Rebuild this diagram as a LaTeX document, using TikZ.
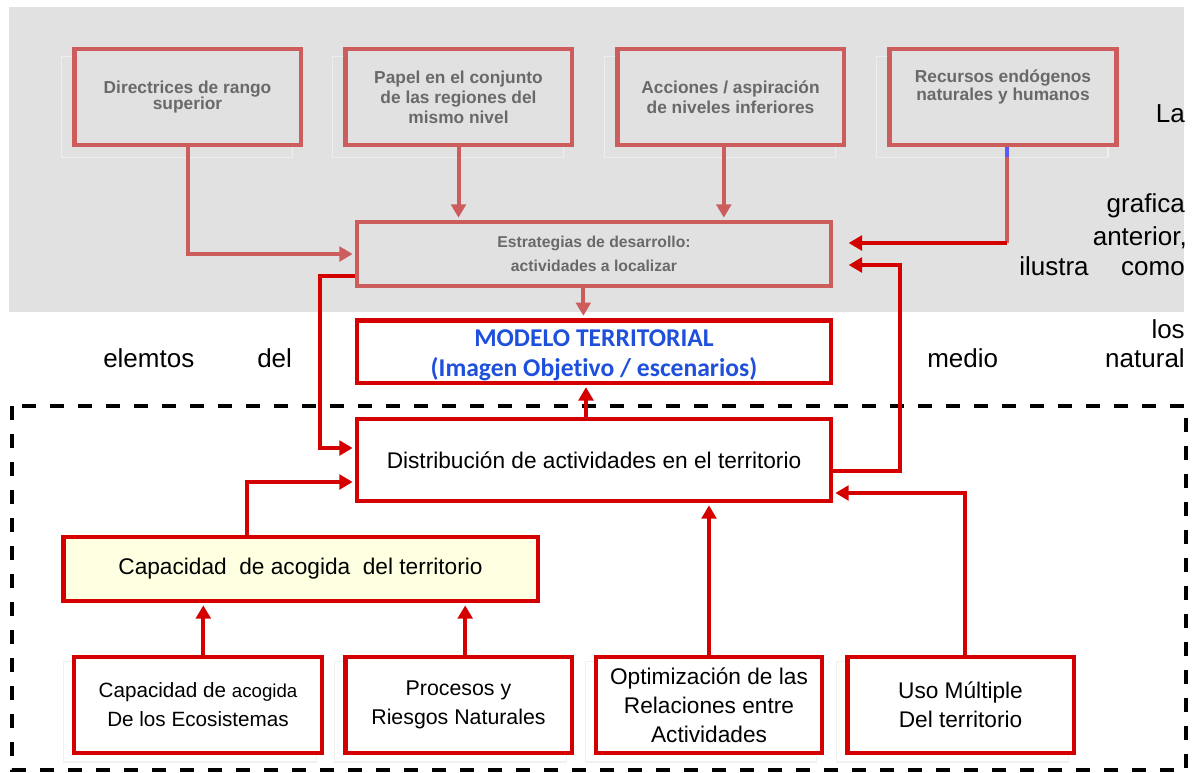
\documentclass[tikz,border=0pt]{standalone}
\usepackage{fontspec}
\setmainfont{Liberation Sans}
\newfontfamily\calfont[Ligatures=NoCommon]{Carlito}
\usetikzlibrary{arrows.meta,backgrounds}

\definecolor{panelgray}{RGB}{225,225,225}
\definecolor{softred}{RGB}{205,92,92}
\definecolor{strongred}{RGB}{212,0,0}
\definecolor{boxtext}{RGB}{105,105,105}
\definecolor{modelblue}{RGB}{30,80,220}
\definecolor{capyellow}{RGB}{255,255,225}
\definecolor{ghostgray}{RGB}{238,238,238}

\tikzset{
  topbox/.style={draw=softred, line width=3.5pt, fill=panelgray, minimum width=170pt, minimum height=72pt,
    inner sep=0pt, align=center, text=boxtext, font=\bfseries\fontsize{13pt}{15pt}\selectfont},
  redbox/.style={draw=strongred, line width=3.5pt, fill=white, inner sep=0pt, align=center,
    minimum height=72pt, font=\fontsize{17pt}{21.75pt}\selectfont},
  softline/.style={draw=softred, line width=3pt},
  softarrow/.style={softline, -{Triangle[length=10pt,width=11pt]}, shorten >=1.5pt},
  redline/.style={draw=strongred, line width=3pt},
  redarrow/.style={redline, -{Triangle[length=10pt,width=11pt]}, shorten >=1.5pt},
  sidetext/.style={font=\fontsize{19.5pt}{23pt}\selectfont, inner sep=0pt},
  ghost/.style={draw=#1, line width=0.8pt},
}

\begin{document}
\begin{tikzpicture}[x=0.75pt, y=-0.75pt]
\useasboundingbox (0,0) rectangle (1196,772);

% dashed frame
\draw[black, line width=3pt, dash pattern=on 10.5pt off 10.5pt] (12,406) rectangle (1186,770);

% upper level
\node[topbox] (dir) at (187.5,97) {Directrices de rango\\[-3pt]superior};
\node[topbox] (pap) at (458.5,97) {Papel en el conjunto\\de las regiones del\\mismo nivel};
\node[topbox] (acc) at (730.5,97) {Acciones / aspiración\\de niveles inferiores};
\node[topbox] (rec) at (1003,97) {};
\node[topbox, fill=none, draw=none, minimum width=0pt, minimum height=0pt] (rec-t) at (1003,87) {Recursos endógenos\\[-1.5pt]naturales y humanos};

\node[topbox, minimum width=355.5pt, minimum height=48pt, font=\bfseries\fontsize{11.8pt}{18pt}\selectfont]
  (est) at (594,254) {Estrategias de desarrollo:\\actividades a localizar};

\node[redbox, minimum width=355.5pt, minimum height=47pt, text=modelblue,
  font=\calfont\bfseries\fontsize{19.2pt}{23pt}\selectfont]
  (mod) at (594,351.5) {\rule{0pt}{18.4pt}MODELO TERRITORIAL\\(Imagen Objetivo / escenarios)};

\node[redbox, minimum width=355.5pt, minimum height=61.5pt] (dist) at (594,460)
  {Distribución de actividades en el territorio};

\node[redbox, fill=capyellow, minimum width=356pt, minimum height=48pt] (cap) at (300.5,569)
  {Capacidad\ \ de acogida\ \ del territorio};

% lower level
\node[redbox, minimum width=186pt, font=\fontsize{15.5pt}{21.75pt}\selectfont] (eco) at (198,705)
  {Capacidad de {\fontsize{14pt}{21.75pt}\selectfont acogida}\\De los Ecosistemas};
\node[redbox, minimum width=170pt, font=\fontsize{16pt}{21.75pt}\selectfont] (pro) at (458.5,705)
  {Procesos y\\Riesgos Naturales};
\node[redbox, minimum width=169.5pt] (opt) at (709,705)
  {Optimización de las\\Relaciones entre\\Actividades};
\node[redbox, minimum width=170pt] (uso) at (960.5,705)
  {Uso Múltiple\\Del territorio};

% connectors, top part
\draw[softarrow] (dir.south) |- (est.west);
\draw[softarrow] (pap.south) -- (pap.south |- est.north);
\coordinate (acc-out) at ([xshift=-5pt]acc.south);
\draw[softarrow] (acc-out) -- (acc-out |- est.north);

\coordinate (rec-out) at ([xshift=3pt]rec.south);
\coordinate (est-r1) at ([xshift=10pt,yshift=8.25pt]est.east);
\coordinate (rec-turn) at (rec-out |- est-r1);
\draw[draw=blue!65, line width=3pt] (rec-out) -- ++(0,10) coordinate (rec-mid);
\draw[softline] (rec-mid) -- (rec-turn);
\draw[redarrow] (rec-turn) -- (est-r1);

\coordinate (est-down) at ([xshift=-8pt]est.south);
\draw[softarrow] (est-down) -- (est-down |- mod.north);

% connectors around the distribution box
\coordinate (dist-up) at ([xshift=-6pt]dist.north);
\draw[redarrow] (dist-up) -- (dist-up |- mod.south);

\coordinate (est-l) at ([yshift=-16.5pt]est.west);
\coordinate (dist-l1) at ([yshift=9pt]dist.west);
\draw[redarrow] (est-l) -- ++(-35,0) |- (dist-l1);

\coordinate (cap-out) at ([xshift=-40pt]cap.north);
\coordinate (dist-l2) at ([yshift=-16.5pt]dist.west);
\draw[redarrow] (cap-out) |- (dist-l2);

\coordinate (dist-r) at ([yshift=-8.25pt]dist.east);
\coordinate (est-r2) at ([xshift=10pt,yshift=-8.25pt]est.east);
\draw[redarrow] (dist-r) -- ++(67,0) |- (est-r2);

\coordinate (dist-r2) at ([yshift=-24.75pt]dist.east);
\draw[redarrow] ([xshift=3pt]uso.north) |- (dist-r2);
\draw[redarrow] (opt.north) -- (opt.north |- dist.south);

% connectors, bottom part
\coordinate (eco-out) at ([xshift=4pt]eco.north);
\draw[redarrow] (eco-out) -- (eco-out |- cap.south);
\coordinate (pro-out) at ([xshift=5pt]pro.north);
\draw[redarrow] (pro-out) -- (pro-out |- cap.south);

% loose words of the page
\node[sidetext, anchor=base east] (t-la) at (1185,122) {La};
\node[sidetext, anchor=base east] (t-grafica) at (1185,212) {grafica};
\node[sidetext, anchor=base east] (t-anterior) at (1187,245) {anterior,};
\node[sidetext, anchor=base west] (t-ilustra) at (1019,275) {ilustra};
\node[sidetext, anchor=base east] (t-como) at (1185,275) {como};
\node[sidetext, anchor=base east] (t-los) at (1185,338) {los};
\node[sidetext, anchor=base west] (t-elemtos) at (103,367) {elemtos};
\node[sidetext, anchor=base west] (t-del) at (257,367) {del};
\node[sidetext, anchor=base west] (t-medio) at (927,367) {medio};
\node[sidetext, anchor=base east] (t-natural) at (1185,367) {natural};

% grey panel and faint shadows
\begin{scope}[on background layer]
  \fill[panelgray] (9,7) rectangle (1184,312);
  \foreach \b in {dir,pap,acc,rec}
    \draw[ghost=ghostgray] ([shift={(-8pt,-7.5pt)}]\b.south west) rectangle ([shift={(-8pt,-7.5pt)}]\b.north east);
  \foreach \b in {eco,pro,opt,uso}
    \draw[ghost=gray!12] ([shift={(-6pt,-5pt)}]\b.south west) rectangle ([shift={(-6pt,-5pt)}]\b.north east);
\end{scope}
\end{tikzpicture}
\end{document}
